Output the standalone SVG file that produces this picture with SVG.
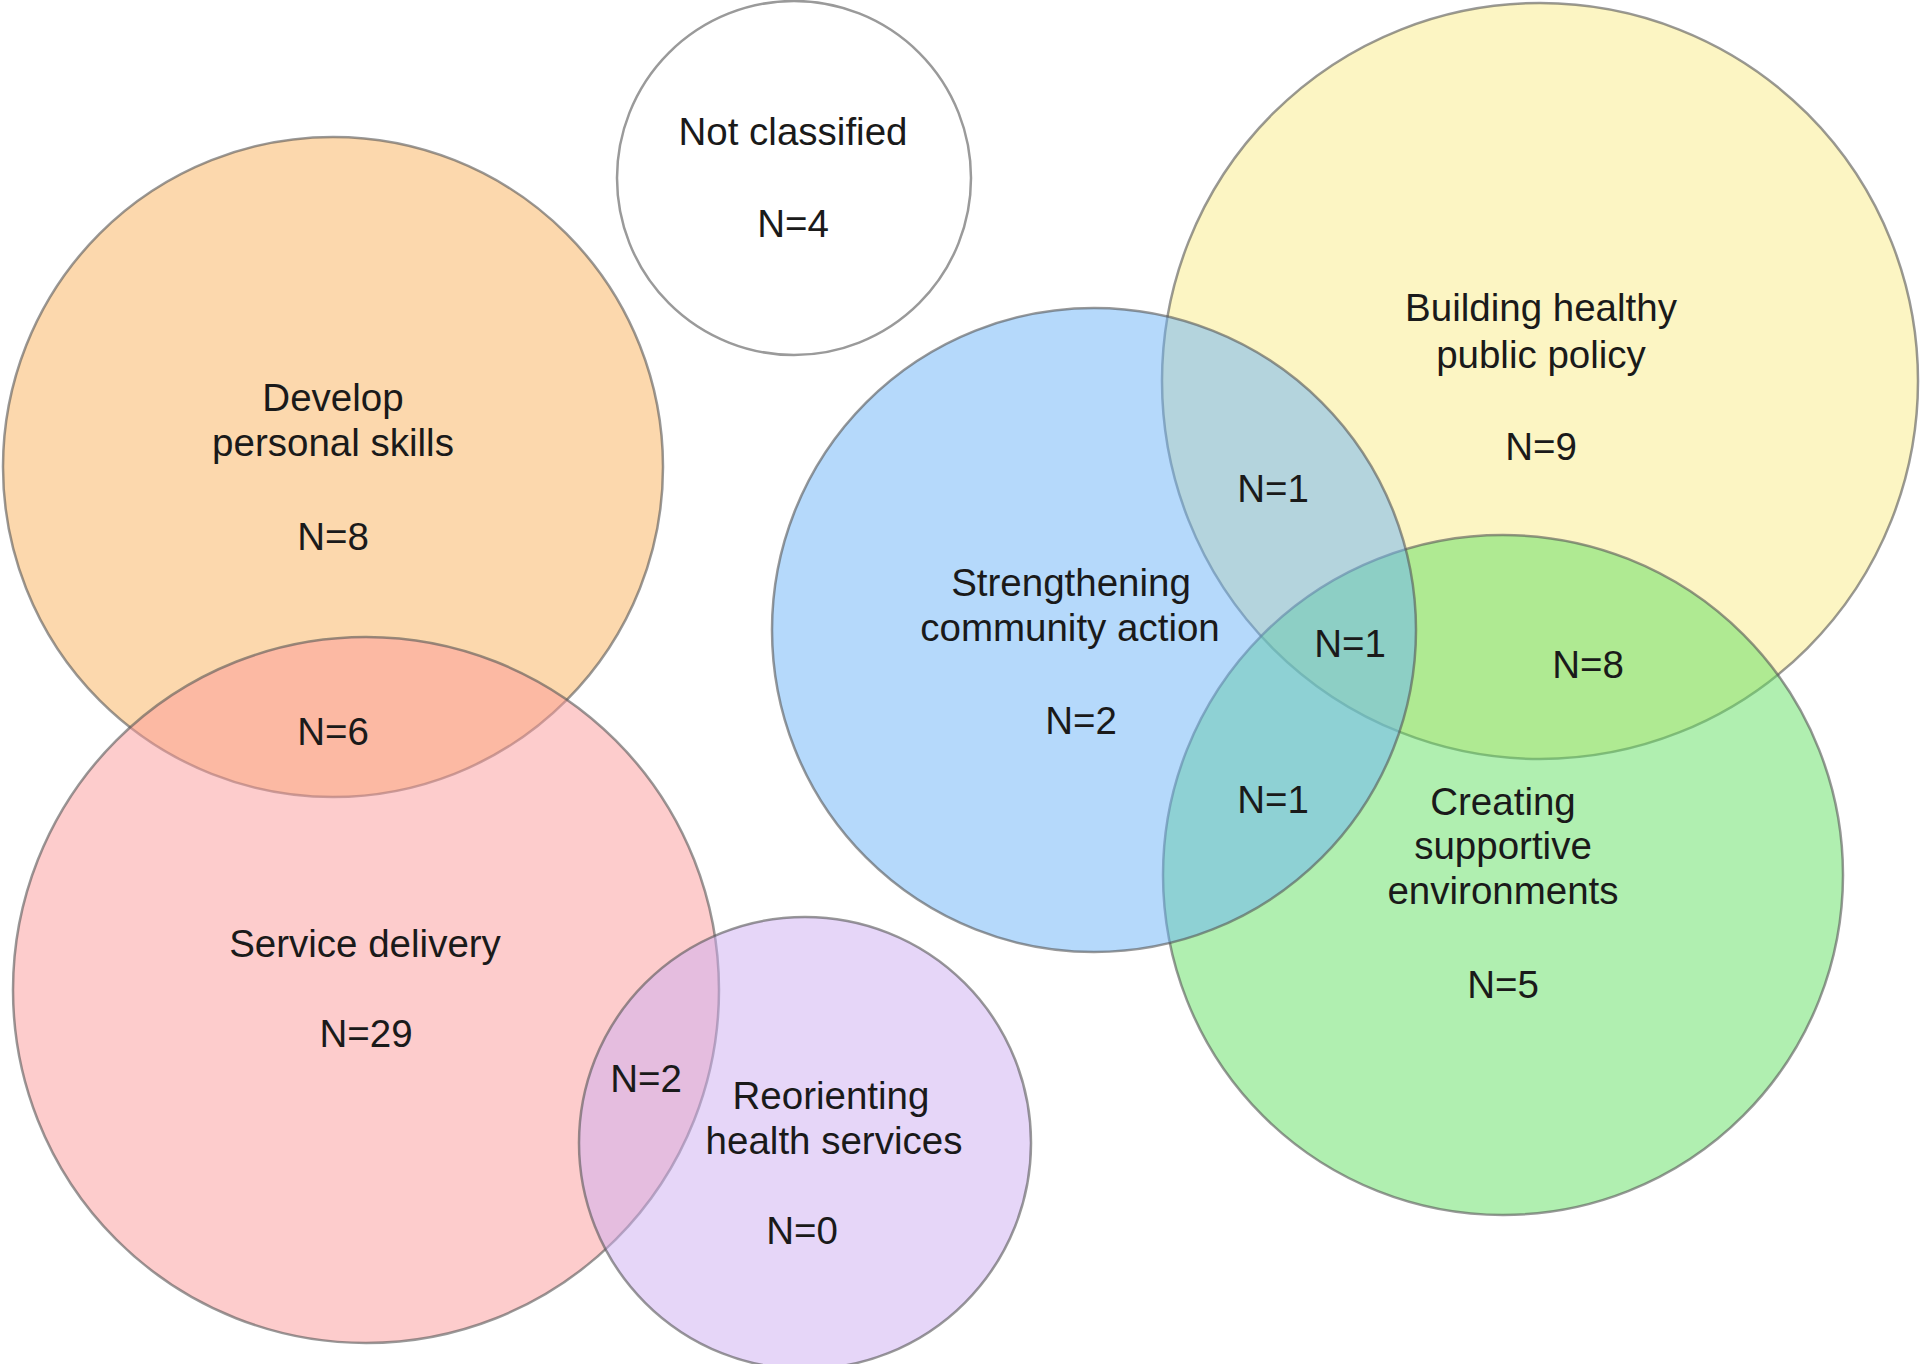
<svg xmlns="http://www.w3.org/2000/svg" width="1920" height="1364" viewBox="0 0 1920 1364">
<style>
.c{stroke:#555;stroke-opacity:0.6;stroke-width:2.5;fill-opacity:0.5}
text{font-family:"Liberation Sans",Arial,sans-serif;font-size:38.5px;fill:#1a1a1a;text-anchor:middle}
</style>
<rect width="1920" height="1364" fill="#ffffff"/>
<g id="not-classified">
<circle cx="794" cy="178" r="177" fill="#ffffff" stroke="#9a9a9a" stroke-width="2.5"/>
<text x="793" y="145">Not classified</text>
<text x="793" y="237">N=4</text>
</g>
<g id="develop-personal-skills">
<circle class="c" cx="333" cy="467" r="330" fill="#f9b15b"/>
</g>
<g id="service-delivery">
<circle class="c" cx="366" cy="990" r="353" fill="#fb9999"/>
</g>
<g id="reorienting-health-services">
<circle class="c" cx="805" cy="1143" r="226" fill="#cdadf1"/>
</g>
<g id="building-healthy-public-policy">
<circle class="c" cx="1540" cy="381" r="378" fill="#f9eb87"/>
</g>
<g id="creating-supportive-environments">
<circle class="c" cx="1503" cy="875" r="340" fill="#61df61"/>
</g>
<g id="strengthening-community-action">
<circle class="c" cx="1094" cy="630" r="322" fill="#6bb3f7"/>
</g>
<g id="labels">
<text x="333" y="411">Develop</text>
<text x="333" y="456">personal skills</text>
<text x="333" y="550">N=8</text>
<text x="333" y="745">N=6</text>
<text x="365" y="957">Service delivery</text>
<text x="366" y="1047">N=29</text>
<text x="646" y="1092">N=2</text>
<text x="831" y="1109">Reorienting</text>
<text x="834" y="1154">health services</text>
<text x="802" y="1244">N=0</text>
<text x="1071" y="596">Strengthening</text>
<text x="1070" y="641">community action</text>
<text x="1081" y="734">N=2</text>
<text x="1273" y="502">N=1</text>
<text x="1350" y="657">N=1</text>
<text x="1273" y="813">N=1</text>
<text x="1541" y="321">Building healthy</text>
<text x="1541" y="368">public policy</text>
<text x="1541" y="460">N=9</text>
<text x="1588" y="678">N=8</text>
<text x="1503" y="815">Creating</text>
<text x="1503" y="859">supportive</text>
<text x="1503" y="904">environments</text>
<text x="1503" y="998">N=5</text>
</g>
<g id="connectors"/>
</svg>
